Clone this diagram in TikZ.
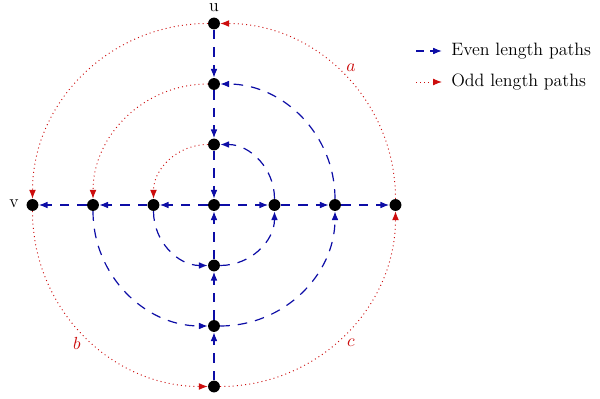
\documentclass[tikz,border=0pt]{standalone}
\usetikzlibrary{arrows.meta}
\definecolor{evenblue}{rgb}{0.05,0.05,0.65}
\definecolor{oddred}{rgb}{0.8,0.05,0.05}
\begin{document}
\begin{tikzpicture}[x=0.625pt,y=-0.625pt,
  every node/.style={font=\fontsize{11.2pt}{13.5pt}\selectfont},
  dot/.style={circle,fill=black,minimum size=7.4pt,inner sep=0pt},
  even/.style={evenblue,line width=0.75pt,dash pattern=on 6pt off 5pt,-{Latex[length=5.5pt,width=4.2pt]}},
  odd/.style={oddred,line width=0.6pt,dotted,-{Latex[length=5.5pt,width=4.2pt]}},
  lbl/.style={inner sep=0pt},
  curlbl/.style={text=oddred,inner sep=0pt}]
\useasboundingbox (0,0) rectangle (600,399);
% nodes
\node[dot] (c) at (214,205) {};
\node[dot] (t1) at (214,144.5) {};
\node[dot] (t2) at (214,84) {};
\node[dot] (t3) at (214,23.5) {};
\node[dot] (l1) at (153.5,205) {};
\node[dot] (l2) at (93,205) {};
\node[dot] (l3) at (32.5,205) {};
\node[dot] (r1) at (274.5,205) {};
\node[dot] (r2) at (335,205) {};
\node[dot] (r3) at (395.5,205) {};
\node[dot] (b1) at (214,265.5) {};
\node[dot] (b2) at (214,326) {};
\node[dot] (b3) at (214,386.5) {};
\node[lbl] (u) at (214,7.5) {u};
\node[lbl] (v) at (14,204) {v};
\node[curlbl] (la) at (351,68) {$a$};
\node[curlbl] (lb) at (77,343) {$b$};
\node[curlbl] (lc) at (351,343) {$c$};
% straight edges
\draw[even] (t3) -- (t2);
\draw[even] (t2) -- (t1);
\draw[even] (t1) -- (c);
\draw[even] (b3) -- (b2);
\draw[even] (b2) -- (b1);
\draw[even] (b1) -- (c);
\draw[even] (c) -- (r1);
\draw[even] (r1) -- (r2);
\draw[even] (r2) -- (r3);
\draw[even] (c) -- (l1);
\draw[even] (l1) -- (l2);
\draw[even] (l2) -- (l3);
% top-left quadrant
\draw[odd] (t1) to[out=180,in=90] (l1);
\draw[odd] (t2) to[out=180,in=90] (l2);
\draw[odd] (t3) to[out=180,in=90] (l3);
% top-right quadrant
\draw[even] (r1) to[out=90,in=0] (t1);
\draw[even] (r2) to[out=90,in=0] (t2);
\draw[odd] (r3) to[out=90,in=0] (t3);
% bottom-left quadrant
\draw[even] (l1) to[out=270,in=180] (b1);
\draw[even] (l2) to[out=270,in=180] (b2);
\draw[odd] (l3) to[out=270,in=180] (b3);
% bottom-right quadrant
\draw[even] (b1) to[out=0,in=270] (r1);
\draw[even] (b2) to[out=0,in=270] (r2);
\draw[odd] (b3) to[out=0,in=270] (r3);
% legend
\coordinate (e1) at (416,51);
\coordinate (e2) at (442,51);
\coordinate (o1) at (416,82);
\coordinate (o2) at (442,82);
\draw[even,dash pattern=on 5pt off 4pt] (e1) -- (e2);
\draw[odd] (o1) -- (o2);
\node[anchor=west,inner sep=0pt] (le) at (451,51) {Even length paths};
\node[anchor=west,inner sep=0pt] (lo) at (451,82) {Odd length paths};
\end{tikzpicture}
\end{document}
